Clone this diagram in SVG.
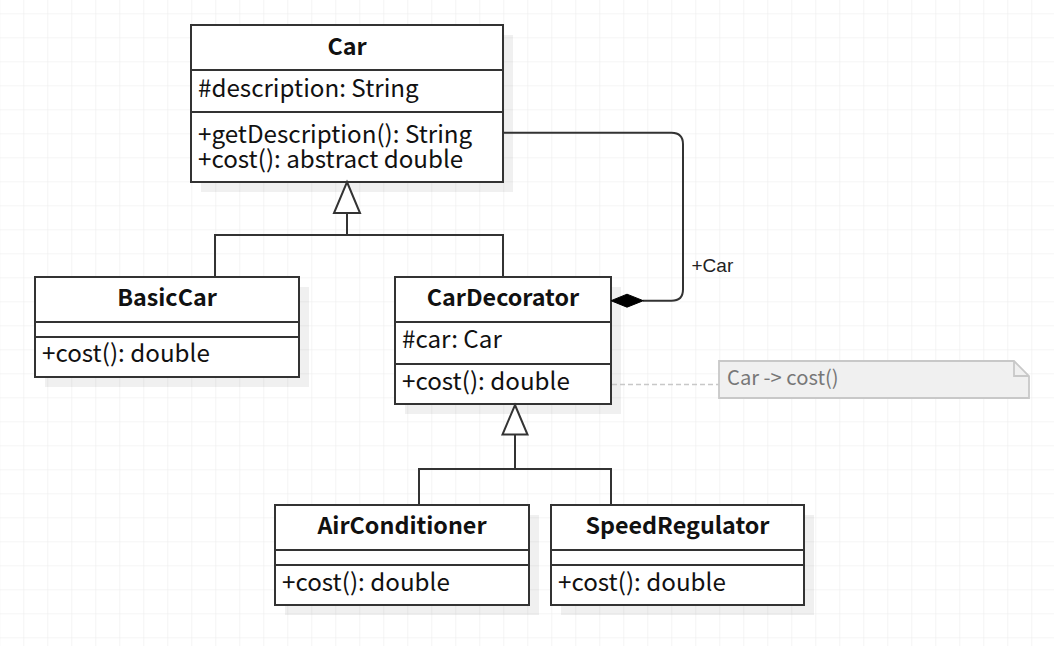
<svg xmlns="http://www.w3.org/2000/svg" width="1054" height="646" viewBox="0 0 1054 646">
<defs>
<pattern id="grid" patternUnits="userSpaceOnUse" x="23.3" y="13.3" width="24" height="24">
<path d="M0 0 V24 M0 0 H24" fill="none" stroke="#ececec" stroke-width="1.2"/>
</pattern>
<style>
.box{fill:#fff;stroke:#333;stroke-width:2}
.sh{fill:#000;fill-opacity:0.06}
.div{stroke:#333;stroke-width:2}
.t{font-family:"Noto Sans CJK SC","Noto Sans",sans-serif;font-size:24.2px;fill:#111}
.b{font-weight:bold;font-size:23.3px;text-anchor:middle}
.ln{fill:none;stroke:#333;stroke-width:2}
.tri{fill:#fff;stroke:#333;stroke-width:2}
</style>
</defs>
<rect width="1054" height="646" fill="#fff"/>
<rect width="1054" height="646" fill="url(#grid)"/>

<g id="Car">
<rect class="sh" x="201" y="35" width="312" height="157"/>
<rect class="box" x="191" y="25" width="312" height="157"/>
<line class="div" x1="191" y1="70" x2="503" y2="70"/>
<line class="div" x1="191" y1="112" x2="503" y2="112"/>
<text class="t b" x="347" y="55">Car</text>
<text class="t" x="198" y="97">#description: String</text>
<text class="t" x="198" y="142.5">+getDescription(): String</text>
<text class="t" x="198" y="168">+cost(): abstract double</text>
</g>

<g id="BasicCar">
<rect class="sh" x="45" y="287" width="264" height="100"/>
<rect class="box" x="35" y="277" width="264" height="100"/>
<line class="div" x1="35" y1="322" x2="299" y2="322"/>
<line class="div" x1="35" y1="337" x2="299" y2="337"/>
<text class="t b" x="167" y="306">BasicCar</text>
<text class="t" x="42" y="361.5">+cost(): double</text>
</g>

<g id="CarDecorator">
<rect class="sh" x="405" y="287" width="216" height="127"/>
<rect class="box" x="395" y="277" width="216" height="127"/>
<line class="div" x1="395" y1="322" x2="611" y2="322"/>
<line class="div" x1="395" y1="364" x2="611" y2="364"/>
<text class="t b" x="503" y="306">CarDecorator</text>
<text class="t" x="402" y="348">#car: Car</text>
<text class="t" x="402" y="390">+cost(): double</text>
</g>

<g id="AirConditioner">
<rect class="sh" x="285" y="515" width="254" height="100"/>
<rect class="box" x="275" y="505" width="254" height="100"/>
<line class="div" x1="275" y1="550" x2="529" y2="550"/>
<line class="div" x1="275" y1="565" x2="529" y2="565"/>
<text class="t b" x="402" y="534">AirConditioner</text>
<text class="t" x="282" y="590.5">+cost(): double</text>
</g>

<g id="SpeedRegulator">
<rect class="sh" x="561" y="515" width="253" height="100"/>
<rect class="box" x="551" y="505" width="253" height="100"/>
<line class="div" x1="551" y1="550" x2="804" y2="550"/>
<line class="div" x1="551" y1="565" x2="804" y2="565"/>
<text class="t b" x="677.5" y="534">SpeedRegulator</text>
<text class="t" x="558" y="590.5">+cost(): double</text>
</g>

<g id="Note">
<path d="M719 361 H1014 L1029 376 V398 H719 Z" fill="#f0f0f0" stroke="#c8c8c8" stroke-width="1.8"/>
<path d="M1014 361 V376 H1029" fill="none" stroke="#c8c8c8" stroke-width="1.8"/>
<text x="727" y="385" font-family="Noto Sans CJK SC, Noto Sans, sans-serif" font-size="20.2" fill="#777">Car -&gt; cost()</text>
</g>

<g id="connectors">
<line class="ln" x1="347" y1="213" x2="347" y2="235"/>
<polyline class="ln" points="215,277 215,235 503,235 503,277"/>
<polygon class="tri" points="347,182 360,213 334,213"/>
<line class="ln" x1="515" y1="434.5" x2="515" y2="469"/>
<polyline class="ln" points="419,505 419,469 611,469 611,505"/>
<polygon class="tri" points="515,405 527.5,434.5 502.5,434.5"/>
<path class="ln" d="M503 132.7 H671.5 Q683 132.7 683 144.2 V289.2 Q683 300.7 671.5 300.7 H643"/>
<polygon points="611,300.7 627,294.2 643.3,300.7 627,307.2" fill="#000" stroke="#000" stroke-width="1"/>
<text x="691.5" y="271.7" font-family="Liberation Sans, Arial, sans-serif" font-size="19" fill="#222">+Car</text>
<line x1="612" y1="384.5" x2="719" y2="384.5" stroke="#c8c8c8" stroke-width="1.6" stroke-dasharray="5 3"/>
</g>
</svg>
